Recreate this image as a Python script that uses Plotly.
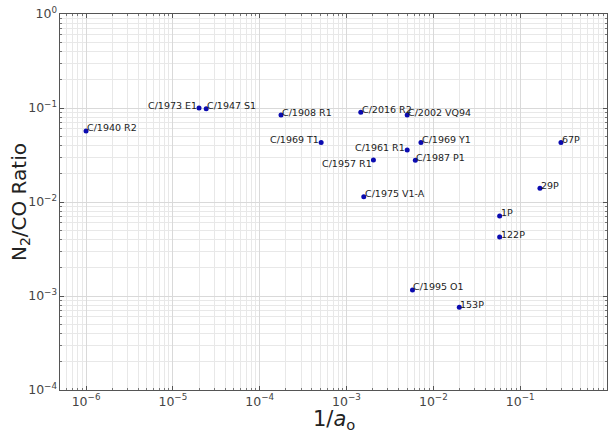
import numpy as np
import plotly.graph_objects as go

names = ["C/1940 R2", "C/1973 E1", "C/1947 S1", "C/1908 R1", "C/1969 T1",
         "C/2016 R2", "C/2002 VQ94", "C/1969 Y1", "C/1961 R1", "C/1987 P1",
         "C/1957 R1", "C/1975 V1-A", "67P", "29P", "1P", "122P",
         "C/1995 O1", "153P"]
inv_a = [1.0e-6, 2.0e-5, 2.42e-5, 1.76e-4, 5.1e-4,
         1.46e-3, 5.0e-3, 7.2e-3, 5.0e-3, 6.2e-3,
         2.04e-3, 1.58e-3, 0.295, 0.169, 0.058, 0.058,
         5.75e-3, 0.0199]
n2_co = [0.057, 0.100, 0.098, 0.084, 0.043,
         0.090, 0.084, 0.043, 0.0357, 0.0278,
         0.028, 0.0114, 0.043, 0.014, 0.0071, 0.00424,
         0.00116, 0.00076]
label_side = ["right", "left", "right", "right", "left",
              "right", "right", "right", "left", "right",
              "below-left", "right", "right", "right", "right", "right",
              "right", "right"]

fig = go.Figure()
fig.add_trace(go.Scatter(
    x=inv_a, y=n2_co, mode="markers",
    marker=dict(color="#0b0bb0", size=5),
    showlegend=False, hoverinfo="text", text=names))

for nm, xv, yv, side in zip(names, inv_a, n2_co, label_side):
    if side == "right":
        xa, ya, xs, ys = "left", "middle", -1, 3
    elif side == "left":
        xa, ya, xs, ys = "right", "middle", 0, 3
    else:
        xa, ya, xs, ys = "right", "middle", 1, -4
    fig.add_annotation(x=np.log10(xv), y=np.log10(yv), text=nm,
                       showarrow=False, xanchor=xa, yanchor=ya,
                       xshift=xs, yshift=ys,
                       font=dict(size=9.5, color="#222222"))

axis_common = dict(
    type="log", showline=True, linecolor="#555555", linewidth=1,
    mirror="allticks", ticks="inside", ticklen=4, tickcolor="#555555",
    showgrid=True, gridcolor="#d9d9d9", gridwidth=1, zeroline=False,
    dtick=1, exponentformat="power", labelalias={"1": "10<sup>0</sup>"},
    tickfont=dict(size=10, color="#444444"), automargin=False,
    minor=dict(showgrid=True, gridcolor="#e8e8e8", ticks="inside",
               ticklen=2, tickcolor="#777777"),
)

fig.update_xaxes(**axis_common, range=[-6.3, 0])
fig.update_yaxes(**axis_common, range=[-4, 0])

fig.add_annotation(x=0.5, y=-0.081, xref="paper", yref="paper",
                   text="1/<i>a</i><sub>o</sub>", showarrow=False,
                   xanchor="center", yanchor="middle",
                   font=dict(size=21, color="#222222"))
fig.add_annotation(x=-0.073, y=0.5, xref="paper", yref="paper",
                   text="N<sub>2</sub>/CO Ratio", showarrow=False, textangle=-90,
                   xanchor="center", yanchor="middle",
                   font=dict(size=20, color="#222222"))

fig.update_layout(
    width=616, height=434,
    margin=dict(l=60, r=9, t=14, b=44),
    plot_bgcolor="white", paper_bgcolor="white",
    font=dict(family="DejaVu Sans"),
)

fig.write_html("out.html", config={"displayModeBar": False},
               post_script="document.body.style.margin='0';")
